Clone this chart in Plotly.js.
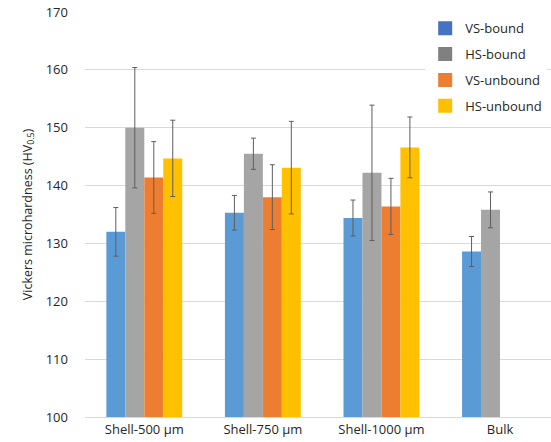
<!DOCTYPE html>
<html><head><meta charset="utf-8">
<script src="https://cdn.plot.ly/plotly-3.0.1.min.js"></script>
<style>html,body{margin:0;padding:0;background:#fff}</style>
</head><body><div id="chart" style="width:551px;height:442px"></div>
<script>
const categories = ["Shell-500 µm", "Shell-750 µm", "Shell-1000 µm", "Bulk"];
const seriesNames = ["VS-bound", "HS-bound", "VS-unbound", "HS-unbound"];
const vsBound = [132.0, 135.3, 134.4, 128.6];
const vsBoundErr = [4.2, 3.0, 3.1, 2.6];
const hsBound = [150.0, 145.5, 142.2, 135.8];
const hsBoundErr = [10.4, 2.7, 11.7, 3.1];
const vsUnbound = [141.4, 138.0, 136.4, null];
const vsUnboundErr = [6.2, 5.6, 4.85, null];
const hsUnbound = [144.7, 143.1, 146.6, null];
const hsUnboundErr = [6.6, 8.0, 5.25, null];
const barColors = ["#5B9BD5", "#A5A5A5", "#ED7D31", "#FFC000"];
const legendColors = ["#4472C4", "#808080", "#ED7D31", "#FFC000"];

const vals = [vsBound, hsBound, vsUnbound, hsUnbound];
const errs = [vsBoundErr, hsBoundErr, vsUnboundErr, hsUnboundErr];
const font = "Open Sans, sans-serif";

const traces = vals.map((v, i) => ({
  type: "bar", x: categories, y: v, name: seriesNames[i], showlegend: false,
  marker: {color: barColors[i], line: {width: 0}},
  error_y: {type: "data", array: errs[i], visible: true, color: "#5e5e5e", thickness: 1, width: 2.5}
}));
seriesNames.forEach((n, i) => traces.push({
  type: "scatter", mode: "markers", x: [null], y: [null], name: n, legendgroup: "g" + i,
  marker: {symbol: "square", size: 14, color: legendColors[i]}
}));

const layout = {
  width: 551, height: 442,
  margin: {l: 85, r: 0, t: 12, b: 25},
  paper_bgcolor: "#fff", plot_bgcolor: "#fff",
  barmode: "group", bargap: 0.36, bargroupgap: 0,
  font: {family: font, size: 13, color: "#262626"},
  xaxis: {type: "category", range: [-0.5, 3.43], showgrid: false, showline: true, linecolor: "#D9D9D9", linewidth: 1,
    ticks: "", tickfont: {size: 13, color: "#262626"}, zeroline: false, fixedrange: true},
  yaxis: {range: [100, 170], dtick: 10, showgrid: true, gridcolor: "#D9D9D9", gridwidth: 1, zeroline: false,
    showline: false, ticks: "", ticklabelstandoff: 16, tickfont: {size: 13, color: "#262626"},
    title: {text: "Vickers microhardness (HV<sub>0.5</sub>)", font: {size: 12.5, color: "#262626"}, standoff: 10}},
  legend: {x: 0.73, y: 0.997, xanchor: "left", yanchor: "top", bgcolor: "#fff", borderwidth: 0,
    font: {size: 13, color: "#262626"}, tracegroupgap: 6, itemclick: false},
  showlegend: true
};
Plotly.newPlot("chart", traces, layout, {staticPlot: true, displayModeBar: false});
</script></body></html>
